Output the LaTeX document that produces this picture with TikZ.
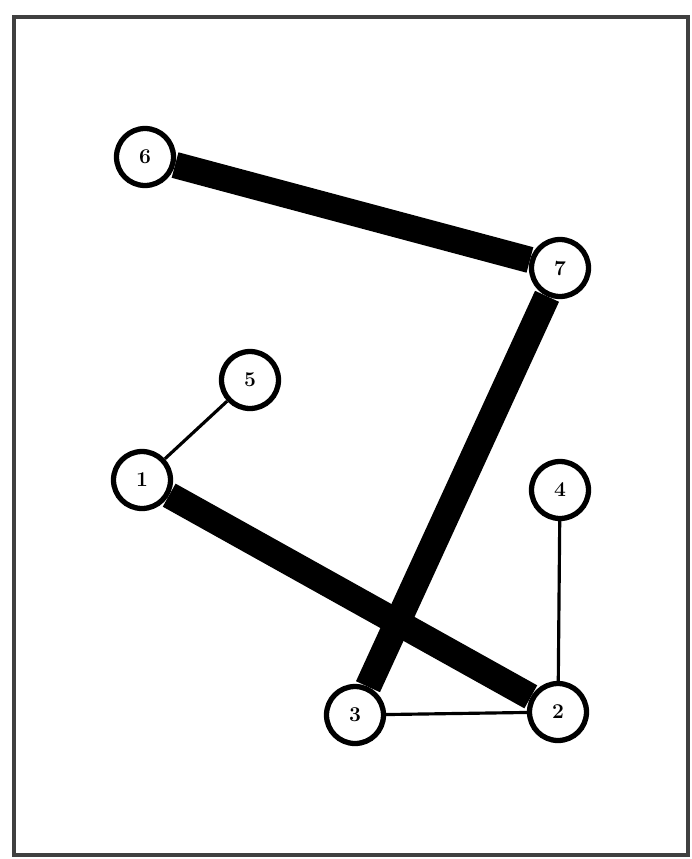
\documentclass[tikz,border=0pt]{standalone}
\usepackage{amssymb,amsmath}
\usepackage{tikz}

\begin{document}
\begin{tikzpicture}[x=0.02cm,y=-0.02cm,
        vertex/.style={circle,draw,fill=white,line width=3pt,minimum size=1.14cm,inner sep=0pt,font=\large\bfseries},
        heavy/.style={line width=15pt},
        light/.style={line width=1.8pt}]

    \useasboundingbox (0,0) rectangle (691,859);
    \draw[line width=2pt,black!75] (14,17) rectangle (688,855);

    \node[vertex] (6) at (145,157) {6};
    \node[vertex] (7) at (560,268) {7};
    \node[vertex] (5) at (250,380) {5};
    \node[vertex] (1) at (142,480) {1};
    \node[vertex] (4) at (560,490) {4};
    \node[vertex] (3) at (355,715) {3};
    \node[vertex] (2) at (558,712) {2};

    \draw[heavy] (6) -- (7);
    \draw[heavy] (7) -- (3);
    \draw[heavy] (1) -- (2);
    \draw[light] (1) -- (5);
    \draw[light] (4) -- (2);
    \draw[light] (3) -- (2);
\end{tikzpicture}
\end{document}
